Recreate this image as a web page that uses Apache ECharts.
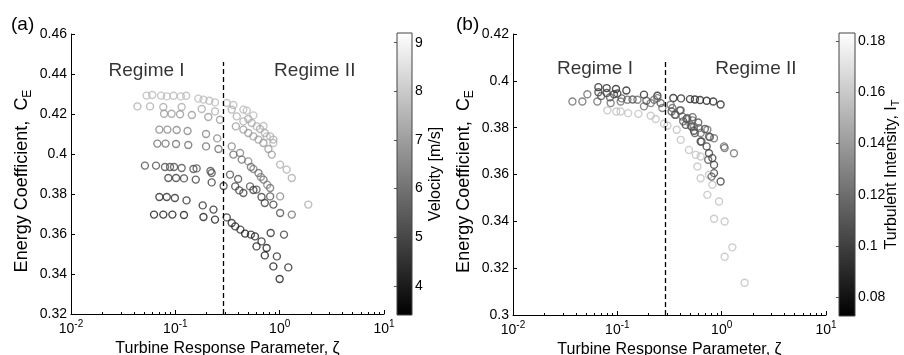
<!DOCTYPE html>
<html><head><meta charset="utf-8">
<script src="https://cdn.jsdelivr.net/npm/echarts@6/dist/echarts.min.js"></script>
<style>html,body{margin:0;padding:0;background:#fff}#c{width:904px;height:355px}</style>
</head><body><div id="c"></div>
<script>
// ---------- Panel (a): [zeta, C_E] per velocity group ----------
const velA = [[0.053,0.4292],[0.060,0.4295],[0.073,0.4292],[0.083,0.4288],[0.096,0.4291],[0.113,0.4288],[0.127,0.4291],[0.166,0.4277],[0.186,0.4272],[0.212,0.4266],[0.240,0.4258],[0.311,0.4255],[0.36,0.4245],[0.449,0.4222],[0.484,0.4217],[0.56,0.4193],[0.70,0.4140],[0.75,0.4088],[0.87,0.4055]];
const velB = [[0.0433,0.4238],[0.0572,0.4238],[0.0767,0.4235],[0.115,0.4235],[0.179,0.4225],[0.24,0.4213],[0.347,0.4222],[0.388,0.4188],[0.449,0.4163],[0.50,0.4175],[0.54,0.4155],[0.603,0.4138],[0.649,0.4125],[0.72,0.4105],[0.81,0.4088],[0.87,0.4072],[1.01,0.3947],[1.167,0.3922],[1.306,0.388],[1.88,0.3747]];
const velC = [[0.078,0.4201],[0.092,0.4201],[0.111,0.4199],[0.144,0.4195],[0.207,0.4185],[0.268,0.4171],[0.38,0.4138],[0.449,0.4122],[0.50,0.4105],[0.56,0.4088],[0.626,0.4072],[0.698,0.4055],[0.78,0.4025],[0.84,0.3997]];
const velD = [[0.0703,0.4122],[0.084,0.4122],[0.103,0.4120],[0.131,0.4115],[0.197,0.4100],[0.252,0.4078],[0.347,0.4038],[0.417,0.4005],[0.50,0.3963],[0.56,0.3925],[0.66,0.3885],[0.76,0.3846],[1.01,0.3788]];
const velE = [[0.0672,0.4052],[0.0806,0.4052],[0.1016,0.4050],[0.133,0.4045],[0.197,0.4038],[0.259,0.4025],[0.36,0.3997],[0.433,0.3972],[0.53,0.3935],[0.626,0.3905],[0.70,0.3872],[0.81,0.3830],[1.306,0.3697]];
const velF = [[0.0511,0.3942],[0.0653,0.3942],[0.0796,0.3935],[0.0889,0.3935],[0.0972,0.3935],[0.115,0.3930],[0.149,0.3925],[0.160,0.3928],[0.217,0.3915],[0.223,0.3905],[0.334,0.3897],[0.40,0.3875],[0.52,0.3838],[0.60,0.3822],[0.81,0.3788],[1.01,0.3705]];
const velG = [[0.0857,0.3880],[0.1016,0.3880],[0.121,0.3878],[0.157,0.3872],[0.223,0.3858],[0.29,0.3840],[0.375,0.3838],[0.41,0.3818],[0.449,0.3805],[0.56,0.3820],[0.67,0.3785],[0.72,0.3755],[0.87,0.3747],[1.10,0.3597]];
const velH = [[0.0703,0.3785],[0.0827,0.3785],[0.099,0.3780],[0.128,0.3768],[0.183,0.3743],[0.232,0.3722],[0.311,0.3683],[0.347,0.3655],[0.42,0.3622],[0.53,0.3597],[0.67,0.3563],[0.82,0.3605],[0.94,0.3488],[1.21,0.3433]];
const velI = [[0.0625,0.3697],[0.0767,0.3697],[0.0937,0.3697],[0.121,0.3695],[0.186,0.3685],[0.240,0.3672],[0.375,0.3638],[0.466,0.3602],[0.58,0.3588],[0.60,0.3538],[0.75,0.3530],[0.72,0.3493],[0.87,0.3438],[1.00,0.3375]];
const velGroups = [velA, velB, velC, velD, velE, velF, velG, velH, velI];
const velValues = [7.6, 7.3, 6.9, 6.4, 5.9, 5.2, 4.8, 4.4, 4.0];
const velRange = [3.4, 9.2];
const velTicks = [4, 5, 6, 7, 8, 9];

// ---------- Panel (b): [zeta, C_E] per turbulence-intensity group ----------
const tiA = [[0.0658,0.3973],[0.079,0.3969],[0.0971,0.3965],[0.122,0.3959],[0.18,0.3941],[0.242,0.3936],[0.344,0.3927],[0.408,0.3925],[0.497,0.3922],[0.554,0.3920],[0.62,0.3918],[0.718,0.3915],[0.83,0.3912],[0.977,0.3899]];
const tiB = [[0.0658,0.3951],[0.079,0.3948],[0.0929,0.3943],[0.10,0.3946],[0.452,0.3812],[0.512,0.3805],[0.543,0.3787],[0.629,0.3741],[0.718,0.3720],[0.756,0.3691],[0.814,0.3670],[0.845,0.3641],[0.845,0.3606],[0.977,0.3570]];
const tiC = [[0.0371,0.3912],[0.0462,0.3912],[0.0516,0.3943],[0.0643,0.3912],[0.0863,0.3905],[0.1076,0.3912],[0.125,0.3919],[0.156,0.3919],[0.18,0.3891],[0.209,0.3905],[0.225,0.3919],[0.242,0.3926],[0.27,0.3884],[0.324,0.3898],[0.337,0.3884],[0.362,0.3855],[0.405,0.3874],[0.42,0.3848],[0.469,0.3841],[0.524,0.3831],[0.504,0.3812],[0.543,0.3805],[0.606,0.3798],[0.629,0.3777],[0.729,0.3791],[0.756,0.3762],[0.845,0.3755],[1.052,0.3720],[1.068,0.3713],[1.312,0.3691]];
const tiD = [[0.0802,0.3874],[0.0978,0.3869],[0.1076,0.3869],[0.127,0.3862],[0.159,0.3859],[0.209,0.3851],[0.233,0.3837],[0.28,0.3817],[0.302,0.3808],[0.371,0.3791],[0.405,0.3748],[0.486,0.3705],[0.564,0.3684],[0.629,0.3677],[0.585,0.3634],[0.629,0.3584],[0.756,0.3599],[0.814,0.3556],[0.729,0.3513],[0.943,0.3485],[0.845,0.3411],[1.068,0.3399],[1.265,0.3289],[1.068,0.3249],[1.66,0.3138]];
const tiE = [[0.070,0.3935],[0.085,0.3930],[0.110,0.3925],[0.140,0.3920],[0.190,0.3915],[0.260,0.3905],[0.331,0.3869],[0.356,0.3855],[0.398,0.3874],[0.428,0.3827],[0.461,0.3837],[0.526,0.3845],[0.553,0.3777],[0.596,0.3822],[0.690,0.3794],[0.771,0.3760],[0.641,0.3741],[0.743,0.3663],[0.800,0.3591]];
const tiGroups = [tiA, tiB, tiC, tiD, tiE];
const tiValues = [0.088, 0.098, 0.120, 0.156, 0.108];
const tiRange = [0.0725, 0.1833];
const tiTicks = [0.08, 0.1, 0.12, 0.14, 0.16, 0.18];

// ---------- annotations ----------
const regimeA = [[0.053, 0.4417, 'Regime I'], [2.17, 0.4417, 'Regime II']];
const regimeB = [[0.061, 0.4052, 'Regime I'], [2.13, 0.4052, 'Regime II']];
const dividerZeta = 0.29;
const dividerTopA = 0.4460, dividerTopB = 0.4080;
const ceTicksA = [0.32, 0.46, 0.02];
const ceTicksB = [0.30, 0.42, 0.02];
const zetaRange = [0.01, 10];

// ---------- helpers ----------
const FONT = 'Liberation Sans, Arial, Helvetica, sans-serif';
function grayOf(v, r) {
  const t = Math.max(0, Math.min(1, (v - r[0]) / (r[1] - r[0])));
  const c = Math.round(255 * t);
  return 'rgb(' + c + ',' + c + ',' + c + ')';
}
function buildPoints(groups, vals, range) {
  const out = [];
  groups.forEach((g, i) => g.forEach(p => out.push({
    value: [p[0], p[1], vals[i]],
    itemStyle: { borderColor: grayOf(vals[i], range) }
  })));
  return out;
}
const minorVals = [];
for (let e = -2; e < 1; e++) for (let m = 2; m <= 9; m++) minorVals.push(+(m * Math.pow(10, e)).toPrecision(3));

const numFmt = v => String(+(+v).toFixed(3));
const tickFont = { fontSize: 14, color: '#000', fontFamily: FONT };

function mainX(grid) {
  return {
    gridIndex: grid, type: 'log', logBase: 10, min: zetaRange[0], max: zetaRange[1], position: 'bottom',
    axisLine: { onZero: false, lineStyle: { color: '#000', width: 1 } },
    axisTick: { inside: true, length: 4, lineStyle: { color: '#000' } },
    splitLine: { show: false },
    axisLabel: {
      margin: 5, showMinLabel: true, showMaxLabel: true,
      formatter: v => '{b|10}{s|' + Math.round(Math.log10(v)) + '}',
      rich: { b: { fontSize: 14, color: '#000', fontFamily: FONT, lineHeight: 20 },
              s: { fontSize: 10, color: '#000', fontFamily: FONT, lineHeight: 10, verticalAlign: 'top' } }
    },
    name: 'Turbine Response Parameter, \u03B6', nameLocation: 'middle', nameGap: 20,
    nameTextStyle: { fontSize: 16, color: '#000', fontFamily: FONT }
  };
}
function minorX(grid) {
  return {
    gridIndex: grid, type: 'log', logBase: 10, min: zetaRange[0], max: zetaRange[1], position: 'bottom', offset: 0,
    axisLine: { show: false }, splitLine: { show: false }, axisLabel: { show: false },
    axisTick: { show: true, inside: true, length: 2, customValues: minorVals, lineStyle: { color: '#000' } }
  };
}
function mainY(grid, t) {
  return {
    gridIndex: grid, type: 'value', min: t[0], max: t[1], interval: t[2],
    axisLine: { show: true, onZero: false, lineStyle: { color: '#000', width: 1 } },
    axisTick: { show: true, inside: true, length: 4, lineStyle: { color: '#000' } },
    splitLine: { show: false },
    axisLabel: Object.assign({ margin: 4, formatter: numFmt }, tickFont),
    name: 'Energy Coefficient,  C{sub|E}', nameLocation: 'middle', nameGap: 37, nameRotate: 90,
    nameTextStyle: { fontSize: 18, color: '#000', fontFamily: FONT, lineHeight: 24, padding: [0, 14, 0, 0],
      rich: { sub: { fontSize: 12, color: '#000', fontFamily: FONT, lineHeight: 12, verticalAlign: 'bottom' } } }
  };
}
function cbarY(grid, range, ticks, name, gap) {
  return {
    gridIndex: grid, type: 'value', min: range[0], max: range[1], position: 'right',
    axisLine: { show: false }, splitLine: { show: false },
    axisTick: { show: true, inside: true, length: 3, customValues: ticks, lineStyle: { color: '#555' } },
    axisLabel: Object.assign({ margin: 3, customValues: ticks, formatter: numFmt }, tickFont),
    name: name, nameLocation: 'middle', nameGap: gap, nameRotate: 90, nameMoveOverlap: false,
    nameTextStyle: { fontSize: 16, color: '#000', fontFamily: FONT, lineHeight: 18,
      rich: { sub: { fontSize: 11, color: '#000', fontFamily: FONT, lineHeight: 11, verticalAlign: 'bottom' } } }
  };
}
function cbarYLeft(grid, range, ticks) {
  return {
    gridIndex: grid, type: 'value', min: range[0], max: range[1], position: 'left',
    axisLine: { show: false }, splitLine: { show: false }, axisLabel: { show: false },
    axisTick: { show: true, inside: true, length: 3, customValues: ticks, lineStyle: { color: '#555' } }
  };
}
function cbarSeries(xi, yi, range) {
  return {
    type: 'custom', xAxisIndex: xi, yAxisIndex: yi, silent: true,
    data: [[0, range[0], range[1]]],
    renderItem: (params, api) => {
      const p1 = api.coord([0, api.value(2)]);
      const p2 = api.coord([1, api.value(1)]);
      return { type: 'rect', shape: { x: p1[0], y: p1[1], width: p2[0] - p1[0], height: p2[1] - p1[1] },
        style: { fill: new echarts.graphic.LinearGradient(0, 0, 0, 1, [{ offset: 0, color: '#fff' }, { offset: 1, color: '#000' }]),
                 stroke: '#444', lineWidth: 1 } };
    }
  };
}
function scatterSeries(xi, yi, data) {
  return {
    type: 'scatter', xAxisIndex: xi, yAxisIndex: yi, data: data, symbol: 'circle', symbolSize: 7,
    itemStyle: { color: 'rgba(0,0,0,0)', borderWidth: 1.4 }, silent: true, emphasis: { disabled: true }
  };
}
function regimeSeries(xi, yi, labels, top, bottom) {
  return {
    type: 'scatter', xAxisIndex: xi, yAxisIndex: yi, data: labels, symbolSize: 1, silent: true,
    itemStyle: { color: 'rgba(0,0,0,0)' },
    label: { show: true, position: 'inside', formatter: p => p.value[2], fontSize: 19, color: '#000', fontFamily: FONT },
    markLine: {
      silent: true, symbol: ['none', 'none'], label: { show: false },
      lineStyle: { color: '#000', width: 1.3, type: [5, 3] },
      data: [[{ coord: [dividerZeta, bottom] }, { coord: [dividerZeta, top] }]]
    }
  };
}

const chart = echarts.init(document.getElementById('c'), null, { renderer: 'canvas' });
chart.setOption({
  animation: false,
  backgroundColor: '#fff',
  textStyle: { fontFamily: FONT },
  title: [
    { text: '(a)', left: 6, top: 10, textStyle: { fontSize: 19, fontWeight: 'normal', color: '#000', fontFamily: FONT } },
    { text: '(b)', left: 451, top: 10, textStyle: { fontSize: 19, fontWeight: 'normal', color: '#000', fontFamily: FONT } }
  ],
  grid: [
    { left: 71, top: 34, width: 313, height: 280, containLabel: false, outerBoundsMode: 'none' },
    { left: 513, top: 34, width: 313, height: 281, containLabel: false, outerBoundsMode: 'none' },
    { left: 397, top: 33, width: 15, height: 282, containLabel: false, outerBoundsMode: 'none' },
    { left: 839, top: 33, width: 16, height: 283, containLabel: false, outerBoundsMode: 'none' }
  ],
  xAxis: [
    mainX(0), minorX(0), mainX(1), minorX(1),
    { gridIndex: 2, type: 'value', min: 0, max: 1, show: false },
    { gridIndex: 3, type: 'value', min: 0, max: 1, show: false }
  ],
  yAxis: [
    mainY(0, ceTicksA), mainY(1, ceTicksB),
    cbarY(2, velRange, velTicks, 'Velocity [m/s]', 15), cbarYLeft(2, velRange, velTicks),
    cbarY(3, tiRange, tiTicks, 'Turbulent Intensity, I{sub|T}', 28), cbarYLeft(3, tiRange, tiTicks)
  ],
  series: [
    scatterSeries(0, 0, buildPoints(velGroups, velValues, velRange)),
    scatterSeries(2, 1, buildPoints(tiGroups, tiValues, tiRange)),
    regimeSeries(0, 0, regimeA, dividerTopA, ceTicksA[0]),
    regimeSeries(2, 1, regimeB, dividerTopB, ceTicksB[0]),
    cbarSeries(4, 2, velRange),
    cbarSeries(5, 4, tiRange)
  ]
});
</script></body></html>
